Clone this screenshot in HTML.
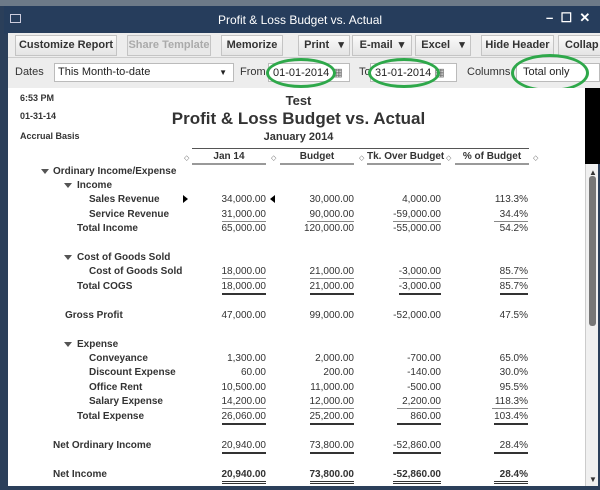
<!DOCTYPE html>
<html><head><style>
*{margin:0;padding:0;box-sizing:border-box}
body{width:600px;height:490px;overflow:hidden;background:#2b3f5a;font-family:"Liberation Sans",sans-serif;position:relative}
.a{position:absolute}
.tb{font-size:11px;color:#333;font-weight:bold;white-space:nowrap}
.btn{position:absolute;top:35px;height:21px;background:linear-gradient(#fafafa,#e4e4e4);border:1px solid #c4c4c4;font-size:11px;font-weight:bold;color:#333;text-align:center;line-height:19px;white-space:nowrap;overflow:hidden}
.lbl{position:absolute;font-size:10px;font-weight:bold;color:#333;white-space:nowrap;margin-top:1px}
.n{position:absolute;font-size:10px;color:#333;text-align:right;width:80px;white-space:nowrap;margin-top:1px}
.n span{display:inline-block;line-height:12px}
.u span{border-bottom:1px solid #888}
.ud span{border-bottom:2px solid #333}
.dd span{border-bottom:3px double #333}
.tri{position:absolute;width:0;height:0;border-left:4px solid transparent;border-right:4px solid transparent;border-top:5px solid #555;margin-top:1px}
.dia{position:absolute;font-size:7px;color:#666}
</style></head><body>
<div class="a" style="left:0;top:0;width:600px;height:6px;background:#6d7a88"></div>
<div class="a" style="left:4px;top:6px;width:596px;height:28px;background:#263d5c"></div>
<div class="a" style="left:10px;top:14px;width:11px;height:9px;border:1px solid #ccd;"></div>
<div class="a" style="left:0;top:13px;width:600px;text-align:center;color:#fff;font-size:12px">Profit &amp; Loss Budget vs. Actual</div>
<div class="a" style="left:546px;top:10px;color:#fff;font-size:13px;font-weight:bold">–&nbsp;&nbsp;☐&nbsp;&nbsp;✕</div>
<div class="a" style="left:8px;top:33px;width:592px;height:55px;background:#ededed"></div>
<div class="a" style="left:8px;top:57px;width:592px;height:1px;background:#ccc"></div>
<div class="btn" style="left:15px;width:102px">Customize Report</div>
<div class="btn" style="left:127px;width:84px;color:#aaa;background:#e8e8e8">Share Template</div>
<div class="btn" style="left:221px;width:62px">Memorize</div>
<div class="btn" style="left:298px;width:52px">Print&nbsp;&nbsp;&nbsp;▾</div>
<div class="btn" style="left:352px;width:60px">E-mail&nbsp;&nbsp;▾</div>
<div class="btn" style="left:415px;width:56px">Excel&nbsp;&nbsp;&nbsp;▾</div>
<div class="btn" style="left:481px;width:73px">Hide Header</div>
<div class="btn" style="left:558px;width:50px;text-align:left;padding-left:6px">Collap</div>
<div class="a" style="left:15px;top:66px;font-size:11px;color:#333">Dates</div>
<div class="a" style="left:54px;top:63px;width:180px;height:19px;background:#fff;border:1px solid #bbb;font-size:11px;padding:2px 3px;color:#222">This Month-to-date<span style="position:absolute;right:6px;font-size:8px;top:4px">▼</span></div>
<div class="a" style="left:240px;top:66px;font-size:11px;color:#333">From</div>
<div class="a" style="left:268px;top:63px;width:82px;height:19px;background:#fff;border:1px solid #bbb;font-size:11px;padding:2px 4px;color:#222;white-space:nowrap">01-01-2014 <span style="color:#666">▦</span></div>
<div class="a" style="left:359px;top:66px;font-size:11px;color:#333">To</div>
<div class="a" style="left:370px;top:63px;width:87px;height:19px;background:#fff;border:1px solid #bbb;font-size:11px;padding:2px 4px;color:#222;white-space:nowrap">31-01-2014 <span style="color:#666">▦</span></div>
<div class="a" style="left:467px;top:66px;font-size:11px;color:#333">Columns</div>
<div class="a" style="left:516px;top:63px;width:84px;height:19px;background:#fff;border:1px solid #bbb;font-size:11px;padding:2px 6px;color:#222">Total only</div>
<div class="a" style="left:266px;top:58px;width:70px;height:30px;border:3px solid #2ea84a;border-radius:50%"></div>
<div class="a" style="left:368px;top:58px;width:72px;height:30px;border:3px solid #2ea84a;border-radius:50%"></div>
<div class="a" style="left:511px;top:54px;width:78px;height:38px;border:3px solid #2ea84a;border-radius:50%"></div>
<div class="a" style="left:8px;top:88px;width:577px;height:398px;background:#fff"></div>
<div class="a" style="left:585px;top:88px;width:15px;height:76px;background:#000"></div>
<div class="a" style="left:585px;top:164px;width:13px;height:322px;background:#f0f0f0;border-left:1px solid #ccc"></div>
<div class="a" style="left:589px;top:168px;font-size:8px;color:#333">▲</div>
<div class="a" style="left:589px;top:176px;width:7px;height:150px;background:#777;border-radius:3px"></div>
<div class="a" style="left:589px;top:475px;font-size:8px;color:#333">▼</div>
<div class="a" style="left:0;top:486px;width:600px;height:4px;background:#2b3f5a"></div>

<div class="a tb" style="left:20px;top:93px;font-size:9px">6:53 PM</div>
<div class="a tb" style="left:20px;top:111px;font-size:9px">01-31-14</div>
<div class="a tb" style="left:20px;top:131px;font-size:9px">Accrual Basis</div>
<div class="a tb" style="left:0;width:585px;text-align:center;top:93px;font-size:13px;padding-left:12px">Test</div>
<div class="a tb" style="left:0;width:585px;text-align:center;top:109px;font-size:17px;padding-left:12px">Profit &amp; Loss Budget vs. Actual</div>
<div class="a tb" style="left:0;width:585px;text-align:center;top:131px;font-size:11px;padding-left:12px">January 2014</div>
<div class="a" style="left:192px;top:148px;width:337px;height:1px;background:#555"></div>
<div class="a tb" style="left:192px;top:151px;width:74px;text-align:center;font-size:10px;border-bottom:2px solid #999;height:14px">Jan 14</div>
<div class="a tb" style="left:280px;top:151px;width:74px;text-align:center;font-size:10px;border-bottom:2px solid #999;height:14px">Budget</div>
<div class="a tb" style="left:364px;top:151px;width:80px;text-align:center;font-size:10px;height:14px"><div style="margin:0 3px;border-bottom:2px solid #999;height:14px">Tk. Over Budget</div></div>
<div class="a tb" style="left:455px;top:151px;width:74px;text-align:center;font-size:10px;border-bottom:2px solid #999;height:14px">% of Budget</div>
<div class="dia" style="left:184px;top:154px">◇</div><div class="dia" style="left:271px;top:154px">◇</div><div class="dia" style="left:359px;top:154px">◇</div><div class="dia" style="left:446px;top:154px">◇</div><div class="dia" style="left:533px;top:154px">◇</div>

<div class="tri" style="left:41px;top:168px"></div><div class="lbl" style="left:53px;top:165px">Ordinary Income/Expense</div>
<div class="tri" style="left:64px;top:182px"></div><div class="lbl" style="left:77px;top:179px">Income</div>
<div class="lbl" style="left:89px;top:193px">Sales Revenue</div>
<div class="a" style="left:183px;top:195px;border-top:4px solid transparent;border-bottom:4px solid transparent;border-left:5px solid #000"></div>
<div class="a" style="left:270px;top:195px;border-top:4px solid transparent;border-bottom:4px solid transparent;border-right:5px solid #000"></div>
<div class="n" style="left:186px;top:193px"><span>34,000.00</span></div><div class="n" style="left:274px;top:193px"><span>30,000.00</span></div><div class="n" style="left:361px;top:193px"><span>4,000.00</span></div><div class="n" style="left:448px;top:193px"><span>113.3%</span></div>
<div class="lbl" style="left:89px;top:208px">Service Revenue</div>
<div class="n u" style="left:186px;top:208px"><span>31,000.00</span></div><div class="n u" style="left:274px;top:208px"><span>&nbsp;90,000.00</span></div><div class="n u" style="left:361px;top:208px"><span>-59,000.00</span></div><div class="n u" style="left:448px;top:208px"><span>&nbsp;&nbsp;34.4%</span></div>
<div class="lbl" style="left:77px;top:222px">Total Income</div>
<div class="n" style="left:186px;top:222px"><span>65,000.00</span></div><div class="n" style="left:274px;top:222px"><span>120,000.00</span></div><div class="n" style="left:361px;top:222px"><span>-55,000.00</span></div><div class="n" style="left:448px;top:222px"><span>54.2%</span></div>

<div class="tri" style="left:64px;top:254px"></div><div class="lbl" style="left:77px;top:251px">Cost of Goods Sold</div>
<div class="lbl" style="left:89px;top:265px">Cost of Goods Sold</div>
<div class="n u" style="left:186px;top:265px"><span>18,000.00</span></div><div class="n u" style="left:274px;top:265px"><span>21,000.00</span></div><div class="n u" style="left:361px;top:265px"><span>-3,000.00</span></div><div class="n u" style="left:448px;top:265px"><span>85.7%</span></div>
<div class="lbl" style="left:77px;top:280px">Total COGS</div>
<div class="n ud" style="left:186px;top:280px"><span>18,000.00</span></div><div class="n ud" style="left:274px;top:280px"><span>21,000.00</span></div><div class="n ud" style="left:361px;top:280px"><span>-3,000.00</span></div><div class="n ud" style="left:448px;top:280px"><span>85.7%</span></div>

<div class="lbl" style="left:65px;top:309px">Gross Profit</div>
<div class="n" style="left:186px;top:309px"><span>47,000.00</span></div><div class="n" style="left:274px;top:309px"><span>99,000.00</span></div><div class="n" style="left:361px;top:309px"><span>-52,000.00</span></div><div class="n" style="left:448px;top:309px"><span>47.5%</span></div>

<div class="tri" style="left:64px;top:341px"></div><div class="lbl" style="left:77px;top:338px">Expense</div>
<div class="lbl" style="left:89px;top:352px">Conveyance</div>
<div class="n" style="left:186px;top:352px"><span>1,300.00</span></div><div class="n" style="left:274px;top:352px"><span>2,000.00</span></div><div class="n" style="left:361px;top:352px"><span>-700.00</span></div><div class="n" style="left:448px;top:352px"><span>65.0%</span></div>
<div class="lbl" style="left:89px;top:366px">Discount Expense</div>
<div class="n" style="left:186px;top:366px"><span>60.00</span></div><div class="n" style="left:274px;top:366px"><span>200.00</span></div><div class="n" style="left:361px;top:366px"><span>-140.00</span></div><div class="n" style="left:448px;top:366px"><span>30.0%</span></div>
<div class="lbl" style="left:89px;top:381px">Office Rent</div>
<div class="n" style="left:186px;top:381px"><span>10,500.00</span></div><div class="n" style="left:274px;top:381px"><span>11,000.00</span></div><div class="n" style="left:361px;top:381px"><span>-500.00</span></div><div class="n" style="left:448px;top:381px"><span>95.5%</span></div>
<div class="lbl" style="left:89px;top:395px">Salary Expense</div>
<div class="n u" style="left:186px;top:395px"><span>14,200.00</span></div><div class="n u" style="left:274px;top:395px"><span>12,000.00</span></div><div class="n u" style="left:361px;top:395px"><span>&nbsp;&nbsp;2,200.00</span></div><div class="n u" style="left:448px;top:395px"><span>&nbsp;118.3%</span></div>
<div class="lbl" style="left:77px;top:410px">Total Expense</div>
<div class="n ud" style="left:186px;top:410px"><span>26,060.00</span></div><div class="n ud" style="left:274px;top:410px"><span>25,200.00</span></div><div class="n ud" style="left:361px;top:410px"><span>&nbsp;&nbsp;&nbsp;&nbsp;&nbsp;860.00</span></div><div class="n ud" style="left:448px;top:410px"><span>103.4%</span></div>

<div class="lbl" style="left:53px;top:439px">Net Ordinary Income</div>
<div class="n ud" style="left:186px;top:439px"><span>20,940.00</span></div><div class="n ud" style="left:274px;top:439px"><span>73,800.00</span></div><div class="n ud" style="left:361px;top:439px"><span>-52,860.00</span></div><div class="n ud" style="left:448px;top:439px"><span>&nbsp;&nbsp;28.4%</span></div>

<div class="lbl" style="left:53px;top:468px">Net Income</div>
<div class="n dd" style="left:186px;top:468px;font-weight:bold"><span>20,940.00</span></div><div class="n dd" style="left:274px;top:468px;font-weight:bold"><span>73,800.00</span></div><div class="n dd" style="left:361px;top:468px;font-weight:bold"><span>-52,860.00</span></div><div class="n dd" style="left:448px;top:468px;font-weight:bold"><span>&nbsp;&nbsp;28.4%</span></div>
</body></html>
